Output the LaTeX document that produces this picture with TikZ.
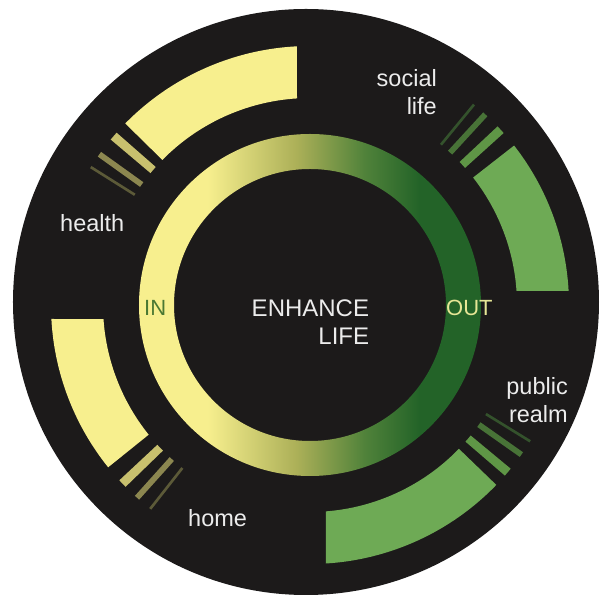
\documentclass[tikz,border=0pt]{standalone}
\usepackage{fontspec}
\setmainfont{Liberation Sans}
\definecolor{disc}{RGB}{28,26,26}
\definecolor{paleyel}{RGB}{247,239,142}
\definecolor{yelA}{RGB}{200,192,110}
\definecolor{yelB}{RGB}{140,135,80}
\definecolor{yelC}{RGB}{92,90,56}
\definecolor{lgreen}{RGB}{110,170,85}
\definecolor{grnA}{RGB}{95,150,70}
\definecolor{grnB}{RGB}{72,115,55}
\definecolor{grnC}{RGB}{52,82,44}
\definecolor{olivemid}{RGB}{172,176,88}
\definecolor{midgreen}{RGB}{80,130,58}
\definecolor{dkgreen}{RGB}{35,99,40}
\definecolor{intext}{RGB}{74,120,50}
\definecolor{outtext}{RGB}{230,230,150}
\definecolor{labeltext}{RGB}{236,236,236}
\pgfdeclarehorizontalshading{ringfade}{100bp}{color(0bp)=(paleyel); color(35bp)=(paleyel); color(48bp)=(olivemid); color(58bp)=(midgreen); color(66bp)=(dkgreen); color(100bp)=(dkgreen)}

\begin{document}
\begin{tikzpicture}[x=1pt, y=1pt,
    band/.style={line width=52pt},
    lbl/.style={inner sep=0pt, text=labeltext, font=\fontsize{23.5}{28.5}\selectfont}]
      \useasboundingbox (-310,-296) rectangle (293,305);
      \fill[white] (-310,-296) rectangle (293,305);
      \fill[disc] (-4,3) circle[radius=293];

      % inner ring
      \shade[shading=ringfade, even odd rule] (0,0) circle[radius=171] (0,0) circle[radius=136];

      % health
      \fill[paleyel] (92.9:259) arc[start angle=92.9, end angle=135.5, radius=259] -- (135.5:207) arc[start angle=135.5, end angle=93.6, radius=207] -- cycle;
      \draw[band, yelA] (138.25:233) arc[start angle=138.25, end angle=140.35, radius=233];
      \draw[band, yelB] (143.7:233) arc[start angle=143.7, end angle=145.1, radius=233];
      \draw[band, yelC] (147.5:233) arc[start angle=147.5, end angle=148.15, radius=233];

      % social life
      \fill[lgreen] (3.1:259) arc[start angle=3.1, end angle=38, radius=259] -- (38:207) arc[start angle=38, end angle=3.9, radius=207] -- cycle;
      \draw[band, grnA] (41.55:233) arc[start angle=41.55, end angle=43.65, radius=233];
      \draw[band, grnB] (46.7:233) arc[start angle=46.7, end angle=48.1, radius=233];
      \draw[band, grnC] (50.4:233) arc[start angle=50.4, end angle=51.05, radius=233];

      % home
      \fill[paleyel] (183.1:259) arc[start angle=183.1, end angle=218.8, radius=259] -- (218.8:207) arc[start angle=218.8, end angle=183.9, radius=207] -- cycle;
      \draw[band, yelA] (222.55:233) arc[start angle=222.55, end angle=224.65, radius=233];
      \draw[band, yelB] (227.4:233) arc[start angle=227.4, end angle=228.8, radius=233];
      \draw[band, yelC] (231.6:233) arc[start angle=231.6, end angle=232.25, radius=233];

      % public realm
      \fill[lgreen] (273.5:259) arc[start angle=273.5, end angle=316, radius=259] -- (316:207) arc[start angle=316, end angle=274.4, radius=207] -- cycle;
      \draw[band, grnA] (318.75:233) arc[start angle=318.75, end angle=320.85, radius=233];
      \draw[band, grnB] (324:233) arc[start angle=324, end angle=325.4, radius=233];
      \draw[band, grnC] (327.9:233) arc[start angle=327.9, end angle=328.55, radius=233];

      \node[lbl, anchor=base east, align=right, font=\fontsize{24}{28.3}\selectfont] (enhance) at (59.3,-40) {ENHANCE\\LIFE};
      \node[lbl, anchor=base west, text=intext, font=\fontsize{22}{26}\selectfont] (in) at (-166,-10.7) {IN};
      \node[lbl, anchor=base west, text=outtext, font=\fontsize{22}{26}\selectfont] (out) at (136,-11) {OUT};
      \node[lbl, anchor=base west] (health) at (-250,73.3) {health};
      \node[lbl, anchor=base east, align=right] (social) at (127,190) {social\\life};
      \node[lbl, anchor=base east, align=right] (public) at (258,-118) {public\\realm};
      \node[lbl, anchor=base west] (home) at (-122,-222) {home};
\end{tikzpicture}
\end{document}
